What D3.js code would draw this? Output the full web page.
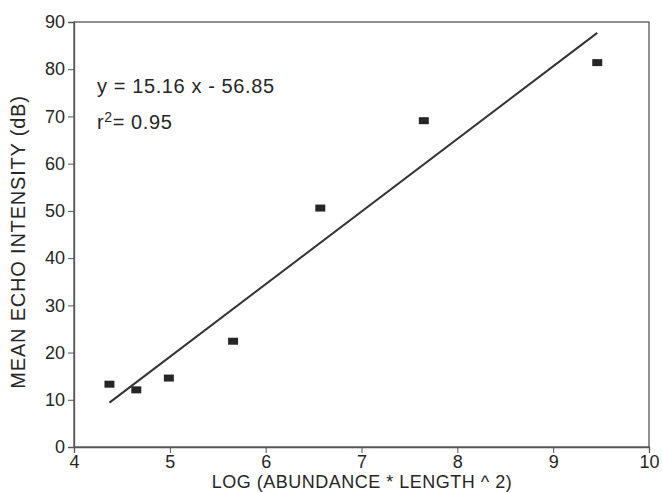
<!DOCTYPE html>
<html>
<head>
<meta charset="utf-8">
<script src="https://cdn.jsdelivr.net/npm/d3@7"></script>
<style>
  body { margin: 0; background: #fff; }
  #chart { width: 662px; height: 492px; }
  text { font-family: "Liberation Sans", Arial, sans-serif; fill: #262626; }
</style>
</head>
<body>
<div id="chart"></div>
<script>
// values
const xVals = [4.37, 4.65, 4.99, 5.66, 6.57, 7.65, 9.46];
const yVals = [13.3, 12.1, 14.6, 22.4, 50.6, 69.1, 81.4];
const fitX = [4.37, 9.46];
const fitY = [9.4, 87.7];
const xTicks = [4, 5, 6, 7, 8, 9, 10];
const yTicks = [0, 10, 20, 30, 40, 50, 60, 70, 80, 90];

const width = 662, height = 492;
const margin = {top: 22, right: 13, bottom: 45, left: 74};

const svg = d3.select('#chart').append('svg')
              .attr('width', width)
              .attr('height', height);

let xScale = d3.scaleLinear()
              .domain([4, 10])
              .range([margin.left, width - margin.right]);
let yScale = d3.scaleLinear()
              .domain([0, 90])
              .range([height - margin.bottom, margin.top]);

// frame
svg.append('rect')
   .attr('x', xScale(4)).attr('y', yScale(90))
   .attr('width', xScale(10) - xScale(4))
   .attr('height', yScale(0) - yScale(90))
   .attr('fill', 'none')
   .attr('stroke', '#555')
   .attr('stroke-width', 1.3);

let xAxis = g => g.attr('transform', `translate(0, ${yScale(0)})`)
                .call(d3.axisBottom(xScale).tickValues(xTicks).tickSize(6).tickPadding(2).tickFormat(d3.format('d')))
                .call(g => g.select('.domain').attr('stroke', '#555').attr('stroke-width', 1.3))
                .call(g => g.selectAll('.tick line').attr('stroke', '#555'))
                .call(g => g.selectAll('.tick text').attr('font-size', 18).style('fill', '#262626'));
let yAxis = g => g.attr('transform', `translate(${xScale(4)}, 0)`)
                .call(d3.axisLeft(yScale).tickValues(yTicks).tickSize(6).tickPadding(3))
                .call(g => g.select('.domain').attr('stroke', '#555').attr('stroke-width', 1.3))
                .call(g => g.selectAll('.tick line').attr('stroke', '#555'))
                .call(g => g.selectAll('.tick text').attr('font-size', 18).style('fill', '#262626'));

svg.append('g').call(xAxis);
svg.append('g').call(yAxis);

// regression line
svg.append('path')
   .datum(fitX.map((x, i) => [x, fitY[i]]))
   .attr('fill', 'none')
   .attr('stroke', '#333')
   .attr('stroke-width', 2)
   .attr('d', d3.line().x(d => xScale(d[0])).y(d => yScale(d[1])));

// points
svg.append('g')
   .selectAll('rect')
   .data(xVals.map((x, i) => [x, yVals[i]]))
   .enter().append('rect')
           .attr('x', d => xScale(d[0]) - 5)
           .attr('y', d => yScale(d[1]) - 3.5)
           .attr('width', 10)
           .attr('height', 7)
           .attr('fill', '#262626');

// equation text
svg.append('text')
   .attr('x', 97).attr('y', 93)
   .attr('font-size', 20)
   .attr('letter-spacing', 0.6)
   .text('y = 15.16 x - 56.85');
let r2 = svg.append('text')
   .attr('x', 97).attr('y', 129)
   .attr('font-size', 20)
   .attr('letter-spacing', 0.6);
r2.append('tspan').text('r');
r2.append('tspan').attr('font-size', 14).attr('dy', -7).text('2');
r2.append('tspan').attr('dy', 7).text('= 0.95');

// axis titles
svg.append('text')
   .attr('x', 362)
   .attr('y', 488)
   .attr('text-anchor', 'middle')
   .attr('font-size', 18)
   .attr('letter-spacing', 0.5)
   .text('LOG (ABUNDANCE * LENGTH ^ 2)');
svg.append('text')
   .attr('transform', `translate(25, 242) rotate(-90)`)
   .attr('text-anchor', 'middle')
   .attr('font-size', 20)
   .attr('letter-spacing', 0.8)
   .text('MEAN ECHO INTENSITY (dB)');
</script>
</body>
</html>
